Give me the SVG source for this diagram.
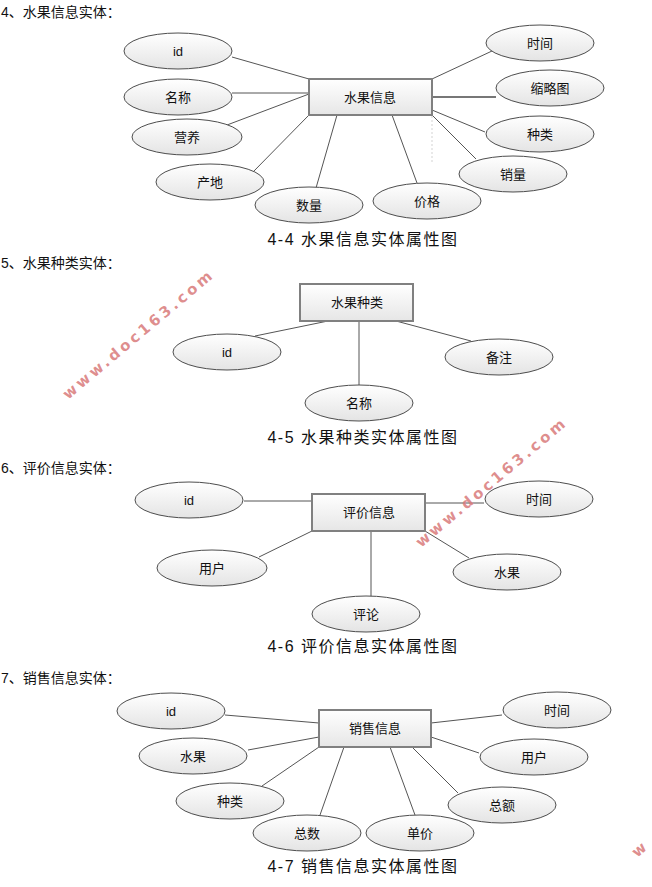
<svg xmlns="http://www.w3.org/2000/svg" width="652" height="887" viewBox="0 0 652 887">
<defs>
<linearGradient id="eg" x1="0" y1="0" x2="0" y2="1">
<stop offset="0" stop-color="#ffffff"/>
<stop offset="1" stop-color="#e4e4e4"/>
</linearGradient>
<linearGradient id="rg" x1="0" y1="0" x2="0" y2="1">
<stop offset="0" stop-color="#ffffff"/>
<stop offset="1" stop-color="#e6e6e6"/>
</linearGradient>
<style>
.e{fill:url(#eg);stroke:#4d4d4d;stroke-width:1}
.r{fill:url(#rg);stroke:#808080;stroke-width:2}
.t{font-family:"Liberation Sans","Noto Sans CJK SC",sans-serif;font-size:13px;fill:#111;text-anchor:middle;dominant-baseline:central}
.h{font-family:"Liberation Sans","Noto Sans CJK SC",sans-serif;font-size:14px;fill:#111}
.c{font-family:"Liberation Sans","Noto Sans CJK SC",sans-serif;font-size:16px;fill:#111;text-anchor:middle;letter-spacing:1.5px}
.l{stroke:#555;stroke-width:1;fill:none}
.w{font-family:"DejaVu Sans",sans-serif;font-size:15px;font-weight:bold;fill:#d97a7a;fill-opacity:0.85;letter-spacing:3.2px}
</style>
</defs>
<rect width="652" height="887" fill="#fff"/>

<!-- Headers & captions -->
<text class="h" x="1" y="17">4、水果信息实体：</text>
<text class="c" x="363" y="245">4-4 水果信息实体属性图</text>
<text class="h" x="1" y="268">5、水果种类实体：</text>
<text class="c" x="363" y="443">4-5 水果种类实体属性图</text>
<text class="h" x="1" y="473">6、评价信息实体：</text>
<text class="c" x="363" y="652">4-6 评价信息实体属性图</text>
<text class="h" x="1" y="683">7、销售信息实体：</text>
<text class="c" x="363" y="872">4-7 销售信息实体属性图</text>

<!-- Connectors -->
<g id="connectors">
<line class="l" x1="232" y1="57" x2="309" y2="79"/>
<line class="l" x1="232" y1="93" x2="309" y2="93"/>
<line class="l" x1="227" y1="125" x2="309" y2="94"/>
<line class="l" x1="253" y1="172" x2="309" y2="115"/>
<line class="l" x1="316" y1="188" x2="337" y2="115"/>
<line class="l" x1="417" y1="183" x2="392" y2="115"/>
<line x1="432" y1="116" x2="432" y2="163" stroke="#c8c8c8" stroke-width="0.8" stroke-dasharray="2,2"/>
<line class="l" x1="476" y1="159" x2="432" y2="115"/>
<line class="l" x1="485" y1="132" x2="432" y2="110"/>
<line x1="432" y1="97" x2="496" y2="97" stroke="#777" stroke-width="2.2"/>
<line class="l" x1="492" y1="51" x2="432" y2="79"/>

<line class="l" x1="255" y1="336" x2="328" y2="321"/>
<line class="l" x1="359" y1="321" x2="359" y2="385"/>
<line class="l" x1="396" y1="321" x2="471" y2="341"/>

<line class="l" x1="244" y1="501" x2="312" y2="501"/>
<line class="l" x1="425" y1="503" x2="484" y2="503"/>
<line class="l" x1="259" y1="557" x2="312" y2="531"/>
<line class="l" x1="371" y1="531" x2="371" y2="597"/>
<line class="l" x1="425" y1="531" x2="469" y2="558"/>

<line class="l" x1="225" y1="715" x2="319" y2="723"/>
<line class="l" x1="248" y1="750" x2="319" y2="737"/>
<line class="l" x1="262" y1="786" x2="319" y2="747"/>
<line class="l" x1="320" y1="815" x2="344" y2="747"/>
<line class="l" x1="415" y1="815" x2="390" y2="747"/>
<line class="l" x1="458" y1="793" x2="412" y2="747"/>
<line class="l" x1="479" y1="753" x2="431" y2="737"/>
<line class="l" x1="502" y1="715" x2="431" y2="723"/>
</g>

<!-- Diagram 4-4 -->
<g id="fruit-info"><rect class="r" x="309" y="79" width="123" height="36"/><text class="t" x="370" y="97">水果信息</text></g>
<g id="fi-id"><ellipse class="e" cx="178" cy="51" rx="54" ry="18"/><text class="t" x="178" y="51">id</text></g>
<g id="fi-name"><ellipse class="e" cx="178" cy="97" rx="54" ry="18"/><text class="t" x="178" y="97">名称</text></g>
<g id="fi-nutrition"><ellipse class="e" cx="187" cy="137" rx="55" ry="18"/><text class="t" x="187" y="137">营养</text></g>
<g id="fi-origin"><ellipse class="e" cx="210" cy="182" rx="54" ry="18"/><text class="t" x="210" y="182">产地</text></g>
<g id="fi-qty"><ellipse class="e" cx="309" cy="205" rx="54" ry="18"/><text class="t" x="309" y="205">数量</text></g>
<g id="fi-price"><ellipse class="e" cx="427" cy="201" rx="54" ry="18"/><text class="t" x="427" y="201">价格</text></g>
<g id="fi-sales"><ellipse class="e" cx="513" cy="174" rx="54" ry="18"/><text class="t" x="513" y="174">销量</text></g>
<g id="fi-kind"><ellipse class="e" cx="540" cy="134" rx="54" ry="18"/><text class="t" x="540" y="134">种类</text></g>
<g id="fi-thumb"><ellipse class="e" cx="550" cy="88" rx="54" ry="18"/><text class="t" x="550" y="88">缩略图</text></g>
<g id="fi-time"><ellipse class="e" cx="540" cy="43" rx="54" ry="18"/><text class="t" x="540" y="43">时间</text></g>

<!-- Diagram 4-5 -->
<g id="fruit-kind"><rect class="r" x="300" y="284" width="113" height="37"/><text class="t" x="357" y="302">水果种类</text></g>
<g id="fk-id"><ellipse class="e" cx="227" cy="352" rx="54" ry="18"/><text class="t" x="227" y="352">id</text></g>
<g id="fk-note"><ellipse class="e" cx="499" cy="357" rx="54" ry="18"/><text class="t" x="499" y="357">备注</text></g>
<g id="fk-name"><ellipse class="e" cx="359" cy="403" rx="54" ry="18"/><text class="t" x="359" y="403">名称</text></g>

<!-- Diagram 4-6 -->
<g id="review-info"><rect class="r" x="312" y="494" width="113" height="37"/><text class="t" x="369" y="512">评价信息</text></g>
<g id="ri-id"><ellipse class="e" cx="189" cy="500" rx="54" ry="18"/><text class="t" x="189" y="500">id</text></g>
<g id="ri-time"><ellipse class="e" cx="539" cy="499" rx="54" ry="18"/><text class="t" x="539" y="499">时间</text></g>
<g id="ri-user"><ellipse class="e" cx="212" cy="568" rx="55" ry="18"/><text class="t" x="212" y="568">用户</text></g>
<g id="ri-fruit"><ellipse class="e" cx="507" cy="572" rx="54" ry="18"/><text class="t" x="507" y="572">水果</text></g>
<g id="ri-comment"><ellipse class="e" cx="366" cy="614" rx="54" ry="18"/><text class="t" x="366" y="614">评论</text></g>

<!-- Diagram 4-7 -->
<g id="sale-info"><rect class="r" x="319" y="710" width="112" height="37"/><text class="t" x="375" y="728">销售信息</text></g>
<g id="si-id"><ellipse class="e" cx="171" cy="711" rx="54" ry="18"/><text class="t" x="171" y="711">id</text></g>
<g id="si-fruit"><ellipse class="e" cx="193" cy="756" rx="54" ry="18"/><text class="t" x="193" y="756">水果</text></g>
<g id="si-kind"><ellipse class="e" cx="230" cy="801" rx="54" ry="18"/><text class="t" x="230" y="801">种类</text></g>
<g id="si-count"><ellipse class="e" cx="307" cy="833" rx="54" ry="18"/><text class="t" x="307" y="833">总数</text></g>
<g id="si-unit"><ellipse class="e" cx="420" cy="833" rx="54" ry="18"/><text class="t" x="420" y="833">单价</text></g>
<g id="si-total"><ellipse class="e" cx="502" cy="805" rx="54" ry="18"/><text class="t" x="502" y="805">总额</text></g>
<g id="si-user"><ellipse class="e" cx="534" cy="757" rx="54" ry="18"/><text class="t" x="534" y="757">用户</text></g>
<g id="si-time"><ellipse class="e" cx="557" cy="710" rx="54" ry="18"/><text class="t" x="557" y="710">时间</text></g>

<!-- Watermarks -->
<text class="w" transform="translate(68,400) rotate(-40)">www.doc163.com</text>
<text class="w" transform="translate(421,548) rotate(-40)">www.doc163.com</text>
<text class="w" transform="translate(637,858) rotate(-40)">w</text>
</svg>
